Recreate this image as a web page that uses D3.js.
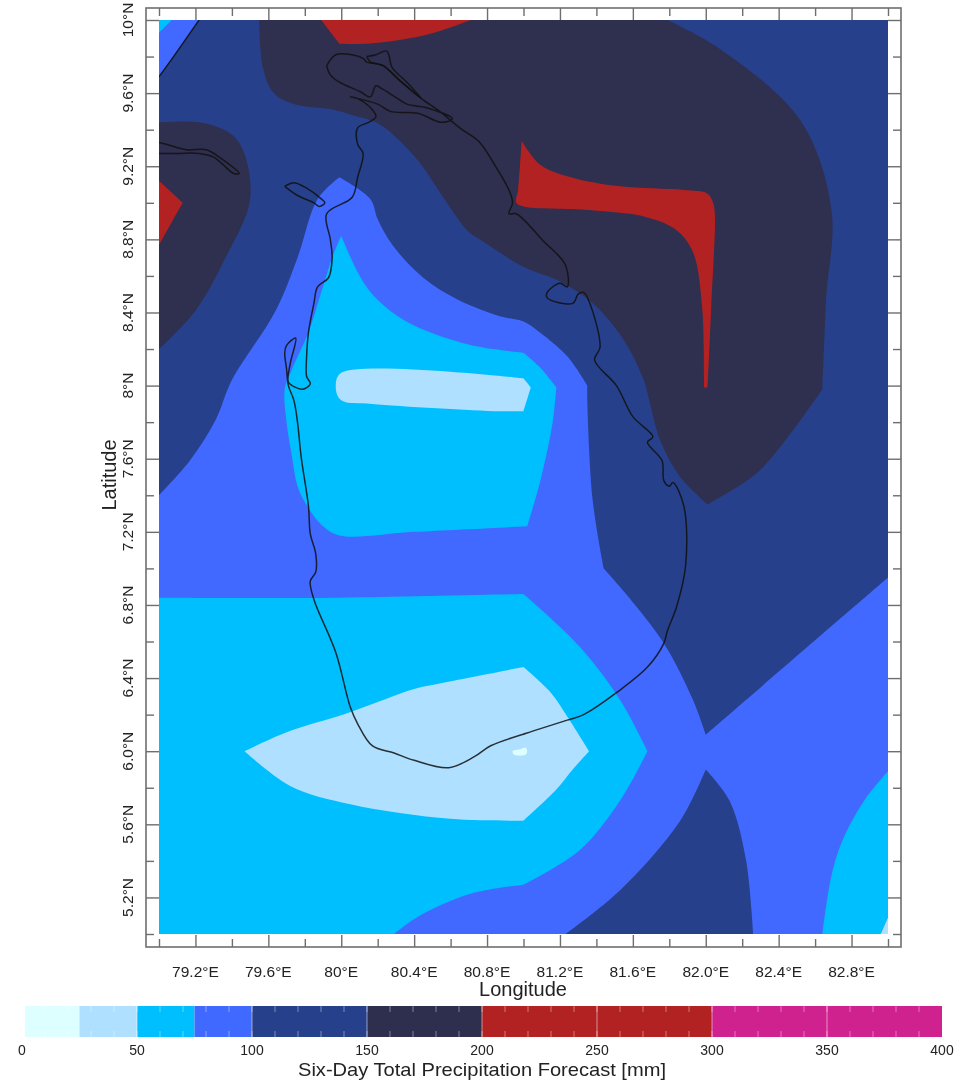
<!DOCTYPE html>
<html>
<head>
<meta charset="utf-8">
<title>Six-Day Total Precipitation Forecast</title>
<script src="https://cdn.jsdelivr.net/npm/d3@7"></script>
<style>
  html, body { margin: 0; padding: 0; background: #fff; }
  text { font-family: "Liberation Sans", Arial, sans-serif; fill: #222; }
</style>
</head>
<body>
<div id="chart"></div>
<script>
// colour bar
var levels = [0, 25, 50, 75, 100, 150, 200, 300, 400];
var bandColors = ["#deffff", "#b0e0ff", "#00bfff", "#4169ff", "#27408b", "#2f2f4f", "#b22222", "#d0208e"];
var barLabels = [0, 50, 100, 150, 200, 250, 300, 350, 400];
var barMinorTicks = d3.range(10, 400, 10);

// axes
var lonExtent = [79, 83];
var latExtent = [5, 10];
var lonMajor = [79.2, 79.6, 80, 80.4, 80.8, 81.2, 81.6, 82, 82.4, 82.8];
var lonMinor = [79, 79.4, 79.8, 80.2, 80.6, 81, 81.4, 81.8, 82.2, 82.6, 83];
var lonLabels = ["79.2°E", "79.6°E", "80°E", "80.4°E", "80.8°E", "81.2°E", "81.6°E", "82.0°E", "82.4°E", "82.8°E"];
var latMajor = [5.2, 5.6, 6, 6.4, 6.8, 7.2, 7.6, 8, 8.4, 8.8, 9.2, 9.6, 10];
var latMinor = [5, 5.4, 5.8, 6.2, 6.6, 7, 7.4, 7.8, 8.2, 8.6, 9, 9.4, 9.8];
var latLabels = ["5.2°N", "5.6°N", "6.0°N", "6.4°N", "6.8°N", "7.2°N", "7.6°N", "8°N", "8.4°N", "8.8°N", "9.2°N", "9.6°N", "10°N"];

// contour outlines, [lon, lat], a third item 1 marks a hard corner
var navyMain = [[79.22,10,1],[83,10,1],[83,6.95,1],[82,6.09,1],[81.93,6.28],[81.77,6.59],[81.58,6.84],[81.44,7,1],[81.38,7.37],[81.35,7.92],[81.35,8,1],[81.24,8.16],[81.09,8.29],[81,8.35],[80.87,8.38],[80.64,8.47],[80.45,8.59],[80.28,8.77],[80.2,8.91],[80.16,9.02],[79.99,9.14,1],[79.87,9.02],[79.76,8.7],[79.64,8.41],[79.4,8.03],[79.31,7.81],[79.17,7.59],[79,7.4,1],[79,9.69,1]];
var navyBottom = [[82,5.9,1],[82.13,5.73],[82.22,5.41],[82.26,5,1],[81.23,5,1],[81.53,5.24],[81.86,5.62]];
var darkTop = [[79.55,10,1],[81.79,10,1],[82.08,9.84],[82.52,9.45],[82.69,8.96],[82.66,8.47],[82.64,7.98,1],[82.3,7.54],[82.08,7.39],[82.01,7.35,1],[81.86,7.5],[81.75,7.7],[81.69,7.92],[81.66,8.03],[81.55,8.25],[81.38,8.45],[81.2,8.57],[81,8.65],[80.76,8.8],[80.69,8.85],[80.58,9],[80.43,9.22],[80.32,9.34],[80.21,9.43],[80.06,9.48],[79.95,9.51],[79.74,9.54],[79.63,9.6],[79.57,9.74]];
var darkLeft = [[79,9.44,1],[79.22,9.44],[79.39,9.38],[79.46,9.29],[79.5,9.02],[79.36,8.69],[79.2,8.41],[79,8.2,1]];
var redTop = [[79.89,10,1],[79.99,9.87,1],[80.14,9.87],[80.32,9.89],[80.51,9.93],[80.71,10,1]];
var redLeft = [[79,9.12,1],[79.13,9,1],[79,8.77,1]];
var redRight = [[80.99,9.34,1],[81.09,9.21],[81.26,9.14],[81.53,9.09],[81.88,9.07],[82.01,9.05],[82.04,9],[82.05,8.94],[82.03,8.43],[82.01,7.99,1],[81.99,7.99,1],[81.98,8.43],[81.93,8.73],[81.84,8.85],[81.68,8.92],[81.36,8.96],[81,8.98],[80.96,9],[80.97,9.07]];
var cyanCorner = [[79,10,1],[79.07,10,1],[79,9.93,1]];
var cyanCentre = [[80,8.82,1],[80.09,8.62],[80.17,8.5],[80.31,8.38],[80.49,8.29],[80.72,8.22],[81,8.18,1],[81.09,8.1],[81.18,7.99,1],[81.16,7.8],[81.09,7.47],[81.02,7.23,1],[80.4,7.2],[79.99,7.18],[79.89,7.24],[79.82,7.33],[79.76,7.45],[79.73,7.61],[79.7,7.8],[79.69,7.98],[79.73,8.09],[79.82,8.29],[79.89,8.51],[79.95,8.7]];
var cyanSouth = [[79,6.84,1],[79.99,6.84],[81,6.86,1],[81.31,6.57],[81.53,6.28],[81.68,6,1],[81.53,5.73],[81.31,5.46],[81,5.27,1],[80.71,5.22],[80.43,5.1],[80.29,5,1],[79,5,1]];
var cyanEast = [[83,5.89,1],[82.87,5.73],[82.75,5.51],[82.69,5.32],[82.64,5,1],[82.96,5,1],[83,5.09,1]];
var lightCentre = [[80,8.07],[81,8.04,1],[81.04,7.99,1],[81,7.86,1],[80.87,7.86],[80.17,7.9],[80,7.92],[79.97,7.99]];
var lightSouth = [[79.47,6,1],[79.69,6.1],[80.04,6.21],[80.4,6.34],[80.54,6.37],[81,6.46,1],[81.15,6.32],[81.24,6.19],[81.36,6,1],[81.27,5.9],[81.18,5.79],[81,5.62,1],[80.6,5.63],[80.05,5.71],[79.72,5.81]];
var lightEast = [[82.96,5,1],[83,5,1],[83,5.09,1]];
var whiteSpot = [[80.94,6],[80.98,6.01],[81.01,6.02],[81.02,6],[81.01,5.98],[80.95,5.98]];

// coastlines, [lon, lat]
var coastIsland = [[79.92,9.75],[79.97,9.81],[80.06,9.81],[80.12,9.79],[80.14,9.77],[80.2,9.76],[80.23,9.75],[80.32,9.67],[80.44,9.57],[80.54,9.5],[80.65,9.41],[80.76,9.33],[80.84,9.21],[80.92,9.07],[80.94,9],[80.92,8.94],[80.96,8.94],[81.11,8.79],[81.23,8.66],[81.24,8.54],[81.2,8.56],[81.13,8.51],[81.13,8.48],[81.27,8.45],[81.3,8.5],[81.33,8.51],[81.36,8.46],[81.42,8.21],[81.39,8.14],[81.51,8],[81.6,7.83],[81.71,7.72],[81.68,7.69],[81.76,7.59],[81.77,7.48],[81.8,7.45],[81.82,7.47],[81.88,7.34],[81.89,7.02],[81.84,6.79],[81.79,6.66],[81.77,6.59],[81.68,6.46],[81.51,6.32],[81.33,6.2],[81.24,6.17],[81.05,6.11],[81.02,6.1],[80.82,6.03],[80.73,5.97],[80.59,5.91],[80.4,5.95],[80.29,5.99],[80.17,6.03],[80.09,6.15],[80.05,6.24],[79.97,6.54],[79.85,6.83],[79.83,6.93],[79.86,6.98],[79.86,7.08],[79.83,7.19],[79.82,7.34],[79.78,7.61],[79.76,7.8],[79.74,7.92],[79.71,8],[79.7,8.09],[79.69,8.18],[79.7,8.22],[79.75,8.26],[79.72,8.12],[79.71,8.02],[79.75,7.99],[79.79,7.98],[79.83,8.01],[79.81,8.05],[79.81,8.16],[79.82,8.29],[79.85,8.45],[79.87,8.54],[79.93,8.59],[79.95,8.7],[79.94,8.8],[79.92,8.94],[80.06,9.03],[80.09,9.14],[80.12,9.27],[80.09,9.32],[80.09,9.41],[80.15,9.44],[80.19,9.47],[80.17,9.51],[80.09,9.57],[80.05,9.58],[80.2,9.54],[80.27,9.5],[80.42,9.49],[80.55,9.44],[80.61,9.46],[80.47,9.52],[80.36,9.54],[80.31,9.57],[80.23,9.62],[80.19,9.64],[80.16,9.58],[80.1,9.61],[79.99,9.66],[79.94,9.7],[79.92,9.75]];
var coastKayts = [[80.14,9.8],[80.19,9.81],[80.25,9.83],[80.28,9.74],[80.36,9.66],[80.44,9.57],[80.32,9.67],[80.23,9.75],[80.16,9.77],[80.14,9.8]];
var coastMannar = [[79.69,9.09],[79.74,9.11],[79.81,9.08],[79.88,9.03],[79.91,9],[79.88,8.98],[79.85,9],[79.76,9.04],[79.69,9.09]];
var coastIndia = [[79,9.33],[79.04,9.32],[79.15,9.29],[79.26,9.29],[79.33,9.25],[79.44,9.16],[79.41,9.16],[79.35,9.21],[79.3,9.25],[79.22,9.27],[79.1,9.27],[79,9.27]];
var coastMainland = [[79,9.69],[79.08,9.8],[79.22,10]];

var contours = [
  { band: 4, line: navyMain }, { band: 4, line: navyBottom },
  { band: 5, line: darkTop }, { band: 5, line: darkLeft },
  { band: 6, line: redTop }, { band: 6, line: redLeft }, { band: 6, line: redRight },
  { band: 2, line: cyanCorner }, { band: 2, line: cyanCentre }, { band: 2, line: cyanSouth }, { band: 2, line: cyanEast },
  { band: 1, line: lightCentre }, { band: 1, line: lightSouth }, { band: 1, line: lightEast },
  { band: 0, line: whiteSpot }
];
var coasts = [coastIsland, coastKayts, coastMannar, coastIndia, coastMainland];

var width = 974, height = 1082;
var frame = { left: 146, right: 901, top: 8, bottom: 947 };

var x = d3.scaleLinear().domain(lonExtent).range([159, 888]);
var y = d3.scaleLinear().domain(latExtent).range([934, 20]);
var bar = d3.scaleLinear().domain([0, 400]).range([22, 942]);

var svg = d3.select("#chart").append("svg")
    .attr("width", width)
    .attr("height", height)
    .style("display", "block");

var defs = svg.append("defs");
defs.append("filter").attr("id", "soft")
    .append("feGaussianBlur").attr("stdDeviation", 0.35);

var mapLeft = x(lonExtent[0]), mapTop = y(latExtent[1]);
var mapWidth = x(lonExtent[1]) - mapLeft, mapHeight = y(latExtent[0]) - mapTop;

defs.append("clipPath").attr("id", "map")
    .append("rect")
    .attr("x", mapLeft)
    .attr("y", mapTop)
    .attr("width", mapWidth)
    .attr("height", mapHeight);

var map = svg.append("g").attr("clip-path", "url(#map)");

// base of the map is the 75-100 band
map.append("rect")
    .attr("x", mapLeft)
    .attr("y", mapTop)
    .attr("width", mapWidth)
    .attr("height", mapHeight)
    .attr("fill", bandColors[3]);

var outline = d3.line()
    .x(function(d) { return x(d[0]); })
    .y(function(d) { return y(d[1]); })
    .curve(d3.curveCatmullRomClosed.alpha(0.5));

var shore = d3.line()
    .x(function(d) { return x(d[0]); })
    .y(function(d) { return y(d[1]); })
    .curve(d3.curveCatmullRom.alpha(0.5));

// a doubled point keeps the spline from rounding a corner
function withCorners(line) {
  var pts = [];
  line.forEach(function(p) {
    pts.push(p);
    if (p[2]) pts.push(p, p);
  });
  return pts;
}

map.append("g").selectAll("path")
    .data(contours)
    .join("path")
    .attr("d", function(d) { return outline(withCorners(d.line)); })
    .attr("fill", function(d) { return bandColors[d.band]; });

map.append("g").selectAll("path")
    .data(coasts)
    .join("path")
    .attr("d", shore)
    .attr("fill", "none")
    .attr("stroke", "#111")
    .attr("stroke-width", 1.5)
    .attr("stroke-opacity", 0.85)
    .attr("stroke-linejoin", "round");

// frame and inward ticks on all four sides
var ink = svg.append("g").attr("filter", "url(#soft)");

ink.append("rect")
    .attr("x", frame.left)
    .attr("y", frame.top)
    .attr("width", frame.right - frame.left)
    .attr("height", frame.bottom - frame.top)
    .attr("fill", "none")
    .attr("stroke", "#6e6e6e")
    .attr("stroke-width", 1.6);

function drawTicks(axisFn, scale, values, size, transform) {
  var g = ink.append("g")
      .attr("transform", transform)
      .call(axisFn(scale).tickValues(values).tickSize(size).tickFormat(""));
  g.select(".domain").remove();
  g.selectAll("line").attr("stroke", "#6e6e6e").attr("stroke-width", 1.4);
  return g;
}

drawTicks(d3.axisBottom, x, lonMajor, -12, "translate(0," + frame.bottom + ")");
drawTicks(d3.axisBottom, x, lonMinor, -8, "translate(0," + frame.bottom + ")");
drawTicks(d3.axisTop, x, lonMajor, -12, "translate(0," + frame.top + ")");
drawTicks(d3.axisTop, x, lonMinor, -8, "translate(0," + frame.top + ")");
drawTicks(d3.axisLeft, y, latMajor, -13, "translate(" + frame.left + ",0)");
drawTicks(d3.axisLeft, y, latMinor, -8, "translate(" + frame.left + ",0)");
drawTicks(d3.axisRight, y, latMajor, -13, "translate(" + frame.right + ",0)");
drawTicks(d3.axisRight, y, latMinor, -8, "translate(" + frame.right + ",0)");

// tick labels
ink.append("g").selectAll("text")
    .data(lonMajor)
    .join("text")
    .attr("x", function(d) { return x(d); })
    .attr("y", 977)
    .attr("text-anchor", "middle")
    .attr("font-size", 15.5)
    .text(function(d, i) { return lonLabels[i]; });

ink.append("g").selectAll("text")
    .data(latMajor)
    .join("text")
    .attr("transform", function(d) { return "translate(133," + y(d) + ") rotate(-90)"; })
    .attr("text-anchor", "middle")
    .attr("font-size", 15.5)
    .text(function(d, i) { return latLabels[i]; });

ink.append("text")
    .attr("x", 523)
    .attr("y", 996)
    .attr("text-anchor", "middle")
    .attr("font-size", 20)
    .text("Longitude");

ink.append("text")
    .attr("transform", "translate(116,475) rotate(-90)")
    .attr("text-anchor", "middle")
    .attr("font-size", 20)
    .text("Latitude");

// colour bar, the first box starts a little right of the 0 label
var barTop = 1006, barBottom = 1037, barStart = 25;
var cb = svg.append("g").attr("filter", "url(#soft)");

cb.selectAll("rect")
    .data(bandColors)
    .join("rect")
    .attr("x", function(d, i) { return i === 0 ? barStart : bar(levels[i]); })
    .attr("y", barTop)
    .attr("width", function(d, i) { return bar(levels[i + 1]) - (i === 0 ? barStart : bar(levels[i])); })
    .attr("height", barBottom - barTop)
    .attr("fill", function(d) { return d; });

cb.append("g").selectAll("line")
    .data(barLabels.slice(1, -1))
    .join("line")
    .attr("x1", function(d) { return bar(d); })
    .attr("x2", function(d) { return bar(d); })
    .attr("y1", barTop)
    .attr("y2", barBottom)
    .attr("stroke", "#fff")
    .attr("stroke-opacity", 0.5)
    .attr("stroke-width", 1);

[[barTop, barTop + 6], [barBottom - 6, barBottom]].forEach(function(span) {
  cb.append("g").selectAll("line")
      .data(barMinorTicks)
      .join("line")
      .attr("x1", function(d) { return bar(d); })
      .attr("x2", function(d) { return bar(d); })
      .attr("y1", span[0])
      .attr("y2", span[1])
      .attr("stroke", "#fff")
      .attr("stroke-opacity", 0.4)
      .attr("stroke-width", 1);
});

cb.append("g").selectAll("text")
    .data(barLabels)
    .join("text")
    .attr("x", function(d) { return bar(d); })
    .attr("y", 1055)
    .attr("text-anchor", "middle")
    .attr("font-size", 14)
    .text(function(d) { return d; });

cb.append("text")
    .attr("x", 482)
    .attr("y", 1076)
    .attr("text-anchor", "middle")
    .attr("font-size", 19)
    .attr("textLength", 368)
    .attr("lengthAdjust", "spacingAndGlyphs")
    .text("Six-Day Total Precipitation Forecast [mm]");
</script>
</body>
</html>
